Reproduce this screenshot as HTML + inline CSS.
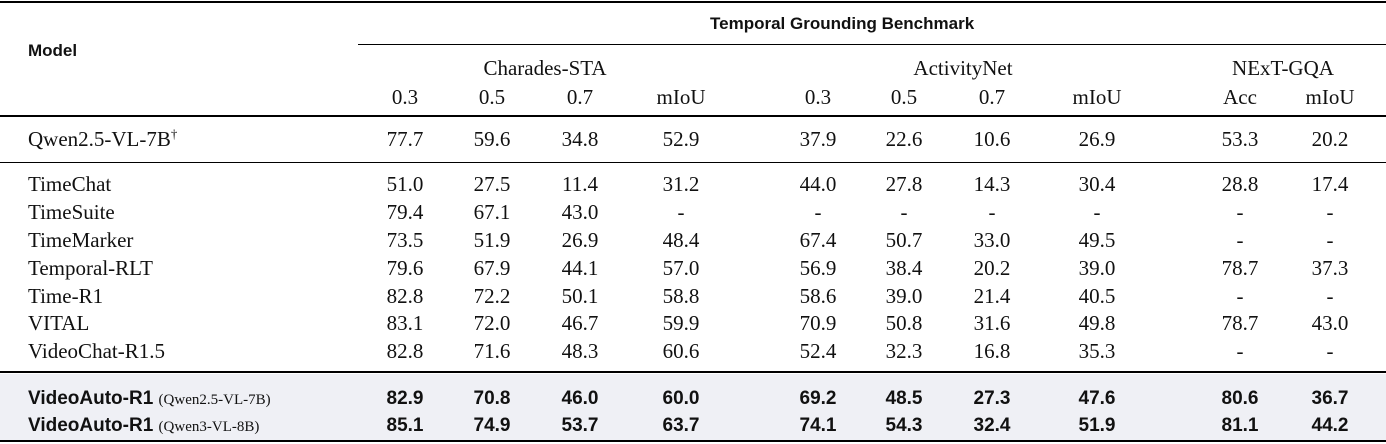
<!DOCTYPE html>
<html><head><meta charset="utf-8"><style>
body{margin:0;width:1386px;height:444px;background:#fff;position:relative;overflow:hidden;font-family:"Liberation Serif",serif;font-size:21px;color:#111}
.r{position:absolute;left:0;width:1386px;height:28px;line-height:28px}
.r span{position:absolute;width:100px;text-align:center;top:0}
.m{position:absolute;left:28px;top:0;white-space:nowrap;line-height:28px}
.c1{left:355px}.c2{left:442px}.c3{left:530px}.c4{left:631px}.c5{left:768px}.c6{left:854px}.c7{left:942px}.c8{left:1047px}.c9{left:1190px}.c10{left:1280px}
.b{font-family:"Liberation Sans",sans-serif;font-weight:bold;font-size:19px}
.hl{position:absolute;left:0;width:1386px;background:#000}
.sm{font-size:15px;font-weight:normal;font-family:"Liberation Serif",serif}
.sup{font-size:13px;position:relative;top:-8px;line-height:0}
</style></head><body>
<div class="hl" style="top:1px;height:2px"></div>
<div class="hl" style="top:44px;left:358px;width:1028px;height:1px"></div>
<div class="hl" style="top:115px;height:2px"></div>
<div class="hl" style="top:162px;height:1px"></div>
<div style="position:absolute;left:0;top:374px;width:1386px;height:66px;background:#eff0f5"></div>
<div class="hl" style="top:371px;height:2px"></div>
<div class="hl" style="top:440px;height:2px"></div>

<div class="b" style="position:absolute;left:710px;top:14px;font-size:17px">Temporal Grounding Benchmark</div>
<div class="b" style="position:absolute;left:28px;top:41px;font-size:17px">Model</div>
<div class="r" style="top:54px"><span style="left:445px;width:200px">Charades-STA</span><span style="left:863px;width:200px">ActivityNet</span><span style="left:1183px;width:200px">NExT-GQA</span></div>
<div class="r" style="top:83px"><span class="c1">0.3</span><span class="c2">0.5</span><span class="c3">0.7</span><span class="c4">mIoU</span><span class="c5">0.3</span><span class="c6">0.5</span><span class="c7">0.7</span><span class="c8">mIoU</span><span class="c9">Acc</span><span class="c10">mIoU</span></div>

<div class="r" style="top:125px"><div class="m">Qwen2.5-VL-7B<b class="sup" style="font-weight:normal">†</b></div><span class="c1">77.7</span><span class="c2">59.6</span><span class="c3">34.8</span><span class="c4">52.9</span><span class="c5">37.9</span><span class="c6">22.6</span><span class="c7">10.6</span><span class="c8">26.9</span><span class="c9">53.3</span><span class="c10">20.2</span></div>

<div class="r" style="top:170px"><div class="m">TimeChat</div><span class="c1">51.0</span><span class="c2">27.5</span><span class="c3">11.4</span><span class="c4">31.2</span><span class="c5">44.0</span><span class="c6">27.8</span><span class="c7">14.3</span><span class="c8">30.4</span><span class="c9">28.8</span><span class="c10">17.4</span></div>
<div class="r" style="top:198px"><div class="m">TimeSuite</div><span class="c1">79.4</span><span class="c2">67.1</span><span class="c3">43.0</span><span class="c4">-</span><span class="c5">-</span><span class="c6">-</span><span class="c7">-</span><span class="c8">-</span><span class="c9">-</span><span class="c10">-</span></div>
<div class="r" style="top:226px"><div class="m">TimeMarker</div><span class="c1">73.5</span><span class="c2">51.9</span><span class="c3">26.9</span><span class="c4">48.4</span><span class="c5">67.4</span><span class="c6">50.7</span><span class="c7">33.0</span><span class="c8">49.5</span><span class="c9">-</span><span class="c10">-</span></div>
<div class="r" style="top:254px"><div class="m">Temporal-RLT</div><span class="c1">79.6</span><span class="c2">67.9</span><span class="c3">44.1</span><span class="c4">57.0</span><span class="c5">56.9</span><span class="c6">38.4</span><span class="c7">20.2</span><span class="c8">39.0</span><span class="c9">78.7</span><span class="c10">37.3</span></div>
<div class="r" style="top:282px"><div class="m">Time-R1</div><span class="c1">82.8</span><span class="c2">72.2</span><span class="c3">50.1</span><span class="c4">58.8</span><span class="c5">58.6</span><span class="c6">39.0</span><span class="c7">21.4</span><span class="c8">40.5</span><span class="c9">-</span><span class="c10">-</span></div>
<div class="r" style="top:309px"><div class="m">VITAL</div><span class="c1">83.1</span><span class="c2">72.0</span><span class="c3">46.7</span><span class="c4">59.9</span><span class="c5">70.9</span><span class="c6">50.8</span><span class="c7">31.6</span><span class="c8">49.8</span><span class="c9">78.7</span><span class="c10">43.0</span></div>
<div class="r" style="top:337px"><div class="m">VideoChat-R1.5</div><span class="c1">82.8</span><span class="c2">71.6</span><span class="c3">48.3</span><span class="c4">60.6</span><span class="c5">52.4</span><span class="c6">32.3</span><span class="c7">16.8</span><span class="c8">35.3</span><span class="c9">-</span><span class="c10">-</span></div>

<div class="r b" style="top:385px"><div class="m">VideoAuto-R1 <span class="sm" style="position:static;width:auto">(Qwen2.5-VL-7B)</span></div><span class="c1">82.9</span><span class="c2">70.8</span><span class="c3">46.0</span><span class="c4">60.0</span><span class="c5">69.2</span><span class="c6">48.5</span><span class="c7">27.3</span><span class="c8">47.6</span><span class="c9">80.6</span><span class="c10">36.7</span></div>
<div class="r b" style="top:412px"><div class="m">VideoAuto-R1 <span class="sm" style="position:static;width:auto">(Qwen3-VL-8B)</span></div><span class="c1">85.1</span><span class="c2">74.9</span><span class="c3">53.7</span><span class="c4">63.7</span><span class="c5">74.1</span><span class="c6">54.3</span><span class="c7">32.4</span><span class="c8">51.9</span><span class="c9">81.1</span><span class="c10">44.2</span></div>
</body></html>
